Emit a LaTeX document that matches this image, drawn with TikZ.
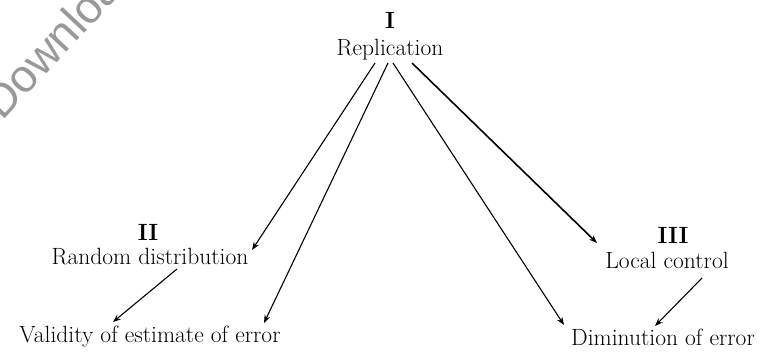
\documentclass[tikz,border=0pt]{standalone}
\usepackage{fontspec}
\newfontfamily\wmfont{Liberation Sans}
\usetikzlibrary{arrows.meta,calc}
\begin{document}
\begin{tikzpicture}[x=1pt,y=-1pt,
        lbl/.style={inner sep=0pt,anchor=base,font=\fontsize{23.5}{28}\selectfont},
        num/.style={inner sep=0pt,anchor=base,font=\fontsize{23.5}{28}\selectfont\bfseries},
        arr/.style={line width=1.1pt,-{Stealth[length=8pt,width=6pt]}}]
        \useasboundingbox (0,0) rectangle (770,351);
        %% Watermark
        \node[rotate=47,text=black!40,inner sep=0pt,anchor=base west,font=\fontsize{46}{52}\wmfont] (wm) at (2,122) {Downloaded};
        %% Labels
        \node[num] (one) at (390,28) {I};
        \node[lbl] (rep) at (390,55) {Replication};
        \node[num] (two) at (148,240) {II};
        \node[lbl] (rand) at (150,264) {Random distribution};
        \node[num] (three) at (673,243) {III};
        \node[lbl] (loc) at (667,268) {Local control};
        \node[lbl] (val) at (150,342) {Validity of estimate of error};
        \node[lbl] (dim) at (663,345) {Diminution of error};
        %% Arrows
        \draw[arr] ($(rep.base)+(-15,8)$) -- ($(rand.base)+(102,-14)$);
        \draw[arr] ($(rep.base)+(-2,8)$) -- ($(val.base)+(114,-19)$);
        \draw[arr] ($(rep.base)+(3,8)$) -- ($(dim.base)+(-99,-20)$);
        \draw[arr,line width=1.6pt] ($(rep.base)+(22,8)$) -- ($(loc.base)+(-70,-25)$);
        \draw[arr] ($(rand.base)+(27,5)$) -- ($(val.base)+(-37,-20)$);
        \draw[arr] ($(loc.base)+(35,10)$) -- ($(dim.base)+(-8,-19)$);
    \end{tikzpicture}
\end{document}
